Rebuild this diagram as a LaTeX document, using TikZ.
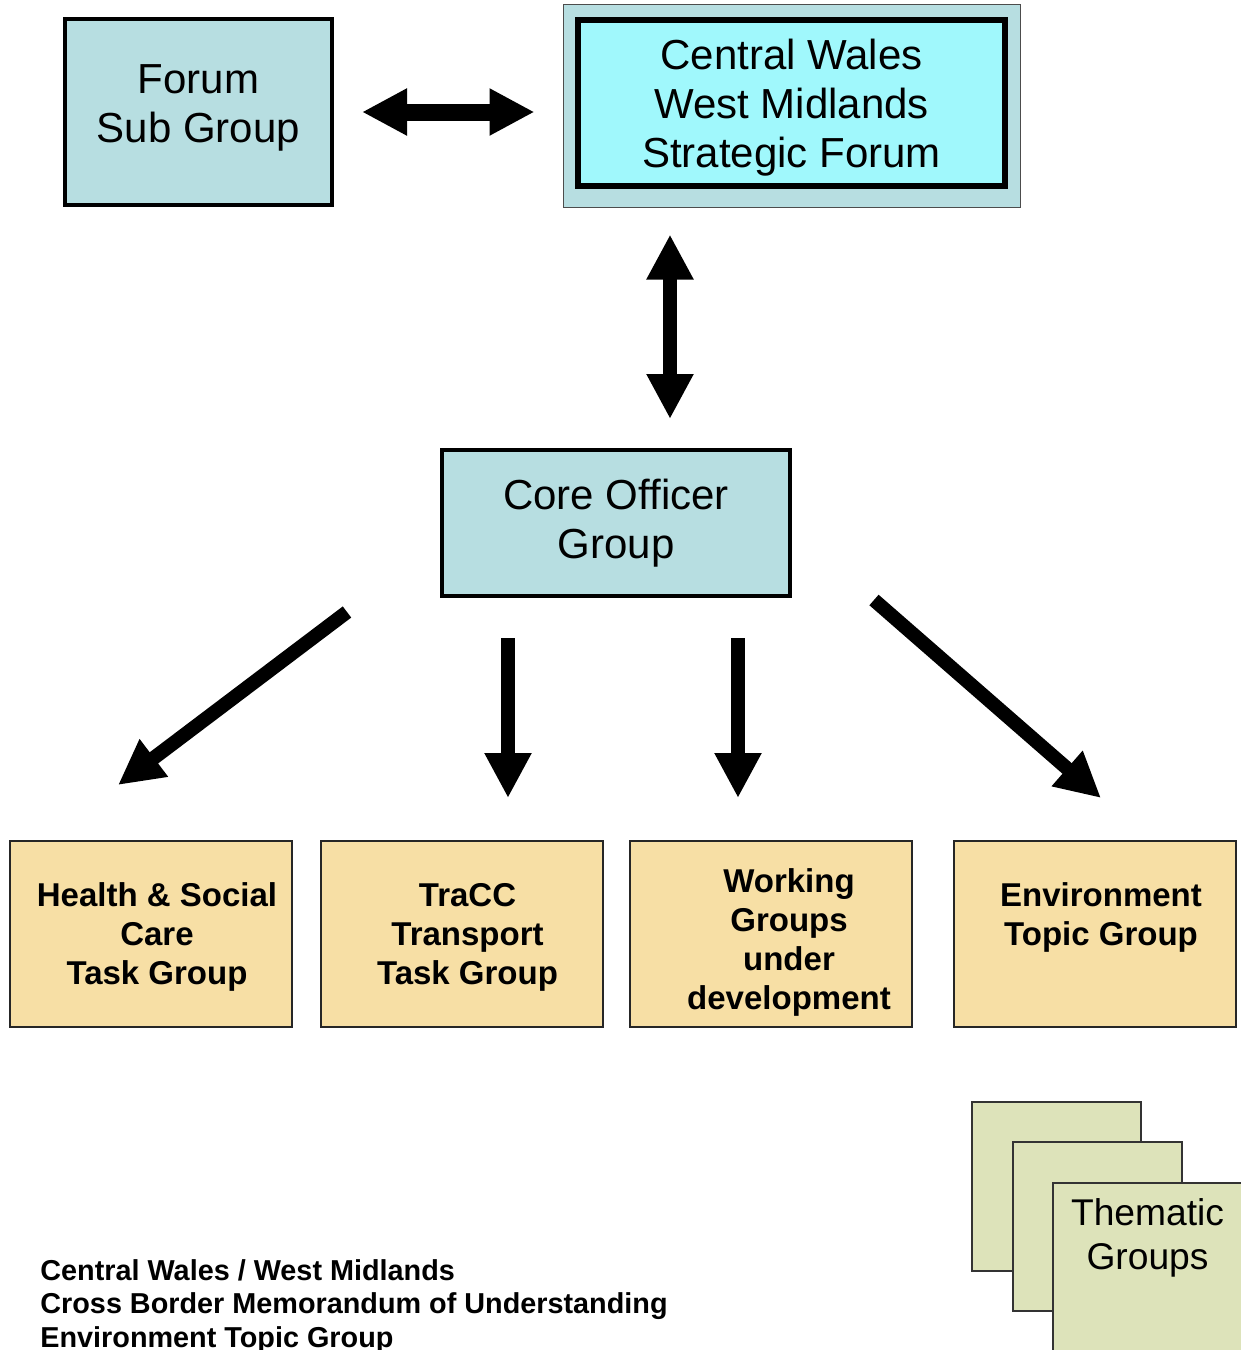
\documentclass[tikz,border=0pt]{standalone}
\usepackage{fontspec}
\setmainfont{Liberation Sans}
\usepackage{tikz}
\usetikzlibrary{arrows.meta,positioning,calc}
\definecolor{PaleTeal}{RGB}{183,222,225}
\definecolor{BrightCyan}{RGB}{160,248,252}
\definecolor{Wheat}{RGB}{247,223,165}
\definecolor{Sage}{RGB}{221,227,186}

\begin{document}
\begin{tikzpicture}[x=0.5pt, y=-0.5pt,
       every node/.style={align=center},
       groupbox/.style={draw, line width=2pt, fill=PaleTeal,
                        font=\fontsize{21}{24.5}\selectfont},
       taskbox/.style={draw=black!85, line width=1pt, fill=Wheat,
                       minimum width=141pt, minimum height=93pt},
       tasktext/.style={font=\fontsize{16.5}{19.5}\selectfont\bfseries, xshift=3pt},
       card/.style={draw=black!80, line width=1pt, fill=Sage,
                    minimum width=84.5pt, minimum height=84.5pt},
       twoway/.style={line width=#1,
                      {Triangle[length=22.5pt,width=22pt]}-{Triangle[length=22.5pt,width=22pt]}},
       oneway/.style={line width=7pt, -{Triangle[length=22.5pt,width=22pt]}}]

	%% page frame
	\useasboundingbox (0,0) rectangle (1241,1350);
	\clip (0,0) rectangle (1241,1350);

	%% Top level forum boxes
	\node [groupbox, minimum width=133.5pt, minimum height=93pt,
	       text depth=8.5pt] (forum) at (198.5,112) {Forum\\Sub Group};
	\node [draw=black!70, line width=0.5pt, fill=PaleTeal,
	       minimum width=228.5pt, minimum height=101.5pt] (wrap) at (791.5,105.5) {};
	\node [groupbox, line width=3pt, fill=BrightCyan, minimum width=213.5pt, minimum height=83pt,
	       text depth=-2pt] (strategic) at (791.5,103) {Central Wales\\West Midlands\\Strategic Forum};
	\node [groupbox, minimum width=174pt, minimum height=73pt] (core) at (616,523) {Core Officer\\Group};

	%% Task groups
	\node [taskbox, label={[tasktext, yshift=-1.5pt]center:Health \& Social\\Care\\Task Group}] (health) at (151,934) {};
	\node [taskbox, label={[tasktext, yshift=-1.5pt]center:TraCC\\Transport\\Task Group}] (tracc) at (461.5,934) {};
	\node [taskbox, label={[tasktext, xshift=6pt, yshift=-4pt]center:Working\\Groups\\under\\development}] (working) at (771,934) {};
	\node [taskbox, label={[tasktext]center:Environment\\Topic Group\\~}] (environ) at (1095,934) {};

	%% Two-way links
	\coordinate (spine) at (670,0);
	\draw [twoway=8.5pt, shorten <=14pt, shorten >=14pt] (forum.east) -- (forum.east -| wrap.west);
	\draw [twoway=7pt, shorten <=13.5pt, shorten >=14.5pt] (wrap.south -| spine) -- (core.north -| spine);

	%% Arrows down to the task groups
	\coordinate (s1) at (347,612);  \coordinate (e1) at (118,785);
	\coordinate (s2) at (508,638);  \coordinate (e2) at (508,798);
	\coordinate (s3) at (738,638);  \coordinate (e3) at (738,798);
	\coordinate (s4) at (874,600);  \coordinate (e4) at (1101,798);
	\foreach \i in {1,...,4}
		\draw [oneway] (s\i) -- (e\i);

	%% Thematic group stack
	\node [card] (thm1) at (1056.5,1186.5) {};
	\node [card] (thm2) at (1097.5,1226.5) {};
	\node [card, minimum width=94.5pt, minimum height=94.5pt] (thm3) at (1147.5,1277.5) {};
	\node [inner sep=0pt, font=\fontsize{18.6}{22}\selectfont, below=8pt of thm3.north] (thmlabel) {Thematic\\Groups};

	%% Caption
	\node [anchor=north west, inner sep=0pt, align=left, font=\fontsize{14.4}{16.75}\selectfont\bfseries]
	      (caption) at (40,1259) {Central Wales / West Midlands\\Cross Border Memorandum of Understanding\\Environment Topic Group};
\end{tikzpicture}
\end{document}
